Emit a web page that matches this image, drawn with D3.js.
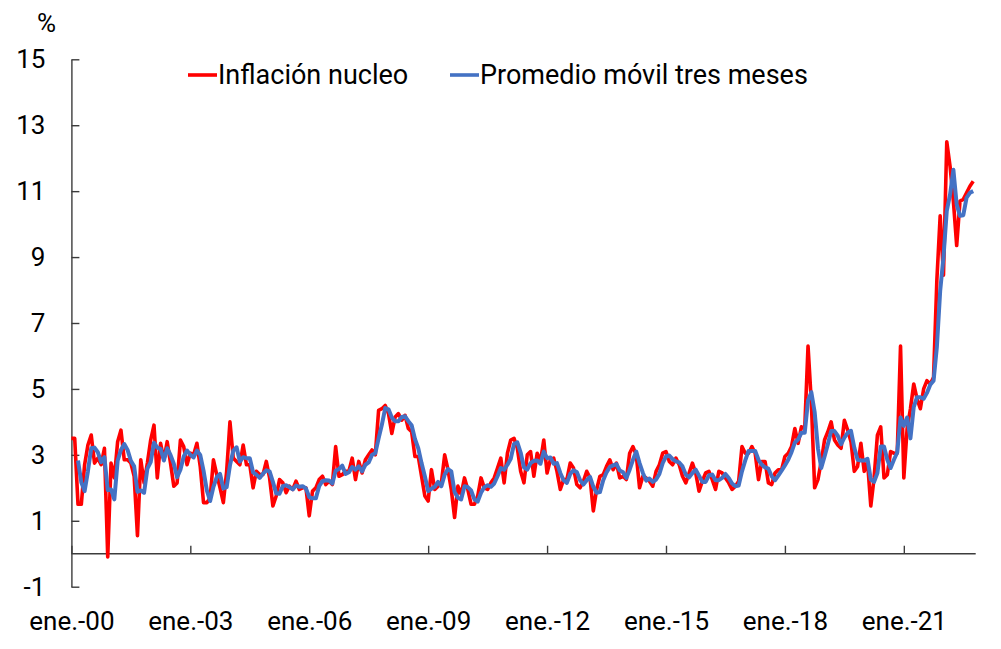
<!DOCTYPE html>
<html>
<head>
<meta charset="utf-8">
<script src="https://cdn.jsdelivr.net/npm/d3@7"></script>
<style>
  body { margin: 0; background: #fff; }
  svg text { font-family: Roboto, "Noto Sans", sans-serif; fill: #000; }
</style>
</head>
<body>
<svg id="chart" width="1001" height="649"></svg>
<script>
// ---- data (monthly, ene.-00 .. oct.-22) ----
const coreInflation = [
  3.5,3.5,1.5,1.5,2.7,3.3,3.6,2.75,2.9,2.7,3.2,-0.1,
  2.75,2.3,3.4,3.75,2.85,2.85,2.75,2.35,0.55,2.85,2.15,2.75,
  3.45,3.9,2.3,3.35,2.85,3.4,2.75,2.05,2.15,3.45,3.25,2.7,
  3.05,3.0,3.35,2.65,1.55,1.55,1.7,2.85,2.4,2.0,1.55,2.5,
  4.0,2.9,2.8,2.7,3.3,2.7,2.7,2.0,2.5,2.4,2.4,2.8,
  2.3,1.45,1.75,2.25,2.15,1.85,2.05,1.95,2.2,1.95,2.0,2.0,
  1.15,1.9,2.0,2.25,2.35,2.1,2.2,2.1,3.25,2.35,2.4,2.5,
  2.5,2.9,2.25,2.8,2.45,2.85,3.0,3.15,3.0,4.35,4.4,4.5,
  4.25,3.65,4.15,4.25,4.05,4.2,3.8,3.7,2.95,2.95,2.35,1.75,
  1.6,2.55,1.95,2.05,2.15,3.0,2.55,1.95,1.1,2.05,1.8,2.3,
  1.95,1.5,1.5,1.75,2.3,2.0,1.95,2.15,2.3,2.6,2.9,2.15,
  3.05,3.45,3.5,3.2,2.5,2.15,3.0,3.1,2.35,3.05,2.8,3.45,
  2.45,2.85,2.9,2.5,1.95,2.25,2.25,2.75,2.6,2.1,2.0,2.2,
  2.5,2.3,1.3,1.95,2.35,2.4,2.65,2.85,2.55,2.75,2.3,2.35,
  2.25,3.05,3.25,3.0,2.0,2.35,2.3,2.2,2.05,2.5,2.7,3.05,
  3.1,2.8,2.7,2.9,2.7,2.35,2.15,2.45,2.75,2.45,1.9,2.2,
  2.45,2.5,2.25,1.95,2.5,2.45,2.3,2.15,1.95,2.05,2.2,3.25,
  3.05,3.05,3.25,3.05,2.25,2.8,2.8,2.15,2.1,2.45,2.55,2.55,
  2.95,3.05,3.25,3.8,3.35,3.85,3.8,6.3,4.6,2.0,2.25,2.8,
  3.45,3.7,4.0,3.45,3.3,3.2,4.05,3.75,3.4,2.5,2.65,3.35,
  2.5,2.8,1.45,2.3,3.6,3.85,2.3,2.4,3.1,3.05,3.05,6.3,
  2.3,3.8,4.4,5.15,4.7,4.4,5.0,5.25,5.15,5.35,8.3,10.25,
  8.45,12.5,11.75,10.7,9.35,10.7,10.75,10.95,11.15,11.3
];
const movingAverage = [
  null,null,2.83,2.17,1.9,2.5,3.2,3.22,3.08,2.78,2.93,1.93,
  1.95,1.65,2.82,3.15,3.33,3.15,2.82,2.65,1.88,1.92,1.85,2.58,
  2.78,3.37,3.22,3.18,2.83,3.2,3.0,2.73,2.32,2.55,2.95,3.13,
  3.0,2.92,3.13,3.0,2.52,1.92,1.6,2.03,2.32,2.42,1.98,2.02,
  2.68,3.13,3.23,2.8,2.93,2.9,2.9,2.47,2.4,2.3,2.43,2.53,
  2.5,2.18,1.83,1.82,2.05,2.08,2.02,1.95,2.07,2.03,2.05,1.98,
  1.72,1.68,1.68,2.05,2.2,2.23,2.22,2.13,2.52,2.57,2.67,2.42,
  2.47,2.63,2.55,2.65,2.5,2.7,2.77,3.0,3.05,3.5,3.92,4.42,
  4.38,4.13,4.02,4.02,4.15,4.17,4.02,3.9,3.48,3.2,2.75,2.35,
  1.9,1.97,2.03,2.18,2.05,2.4,2.57,2.5,1.87,1.7,1.65,2.05,
  2.02,1.92,1.65,1.58,1.85,2.02,2.08,2.03,2.13,2.35,2.6,2.55,
  2.7,2.88,3.33,3.38,3.07,2.62,2.55,2.75,2.82,2.83,2.73,3.1,
  2.9,2.92,2.73,2.75,2.45,2.23,2.15,2.42,2.53,2.48,2.23,2.1,
  2.23,2.33,2.03,1.85,1.87,2.23,2.47,2.63,2.68,2.72,2.53,2.47,
  2.3,2.55,2.85,3.1,2.75,2.45,2.22,2.28,2.18,2.25,2.42,2.75,
  2.95,2.98,2.87,2.8,2.77,2.65,2.4,2.32,2.45,2.55,2.37,2.18,
  2.18,2.38,2.4,2.23,2.23,2.3,2.42,2.3,2.13,2.05,2.07,2.5,
  2.83,3.12,3.12,3.12,2.85,2.7,2.62,2.58,2.35,2.23,2.37,2.52,
  2.68,2.85,3.08,3.37,3.47,3.67,3.67,4.65,4.9,4.3,3.2,2.6,
  2.95,3.32,3.72,3.72,3.58,3.32,3.52,3.67,3.73,3.22,2.85,2.83,
  2.83,2.88,2.25,2.18,2.45,3.25,3.25,2.85,2.6,2.85,3.07,4.13,
  3.88,4.13,3.5,4.45,4.75,4.75,4.7,4.88,5.13,5.25,6.27,7.97,
  9.0,10.4,10.9,11.65,10.6,10.25,10.27,10.8,10.95,11.0
];
const monthNames = ["ene.","feb.","mar.","abr.","may.","jun.","jul.","ago.","sep.","oct.","nov.","dic."];
const firstYear = 2000;
const categories = coreInflation.map((d, i) =>
  monthNames[i % 12] + "-" + String((firstYear + Math.floor(i / 12)) % 100).padStart(2, "0"));
const xTickLabels = ["ene.-00","ene.-03","ene.-06","ene.-09","ene.-12","ene.-15","ene.-18","ene.-21"];
const yTickValues = [-1, 1, 3, 5, 7, 9, 11, 13, 15];
const seriesNames = ["Inflación nucleo", "Promedio móvil tres meses"];
const seriesColors = ["#FF0000", "#4472C4"];
const unitLabel = "%";

// ---- drawing ----
const svg = d3.select("#chart");
svg.append("rect").attr("width", 1001).attr("height", 649).attr("fill", "#fff");

const x = d3.scalePoint().domain(categories).range([71.4, 973.2]);
const y = d3.scaleLinear().domain([-1, 15]).range([586.7, 59.3]);
const axisColor = "#3c3c3c";

// y axis
const gy = svg.append("g").attr("transform", `translate(${x(categories[0])},0)`)
  .call(d3.axisLeft(y).tickValues(yTickValues).tickSize(-8).tickSizeOuter(0).tickPadding(26)
    .tickFormat(d => String(d)));
gy.selectAll("path, line").attr("stroke", axisColor).attr("stroke-width", 1.4);
gy.selectAll("text").attr("font-size", 26).attr("fill", "#000");

// x axis line at 0 with inner ticks
const gx = svg.append("g").attr("transform", `translate(0,${y(0)})`)
  .call(d3.axisBottom(x).tickValues(xTickLabels).tickSize(-8).tickSizeOuter(0).tickFormat(""));
gx.select(".domain").attr("d", `M${x(categories[0])},0H975.7`);
gx.selectAll("path, line").attr("stroke", axisColor).attr("stroke-width", 1.4);

// x labels below plot
const gxl = svg.append("g").attr("transform", `translate(0,${y(-1)})`)
  .call(d3.axisBottom(x).tickValues(xTickLabels).tickSize(0).tickPadding(25));
gxl.select(".domain").remove();
gxl.selectAll("text").attr("font-size", 26).attr("fill", "#000");

// unit label
svg.append("text").attr("x", 46.5).attr("y", 31.5).attr("text-anchor", "middle")
  .attr("font-size", 26).text(unitLabel);

// lines
const line = d3.line()
  .defined(d => d.v !== null)
  .x(d => x(d.c)).y(d => y(d.v));
const series = [coreInflation, movingAverage];
series.forEach((vals, k) => {
  svg.append("path")
    .datum(vals.map((v, i) => ({ c: categories[i], v })))
    .attr("fill", "none")
    .attr("stroke", seriesColors[k])
    .attr("stroke-width", k === 0 ? 3.6 : 4)
    .attr("stroke-linejoin", "round")
    .attr("d", line);
});

// legend
const legendPos = [188, 450];
seriesNames.forEach((name, k) => {
  const g = svg.append("g").attr("transform", `translate(${legendPos[k]},75)`);
  g.append("line").attr("x1", 0).attr("x2", 29).attr("y1", 0).attr("y2", 0)
    .attr("stroke", seriesColors[k]).attr("stroke-width", 3.6);
  g.append("text").attr("x", 30).attr("y", 9).attr("font-size", 27).text(name);
});
</script>
</body>
</html>
